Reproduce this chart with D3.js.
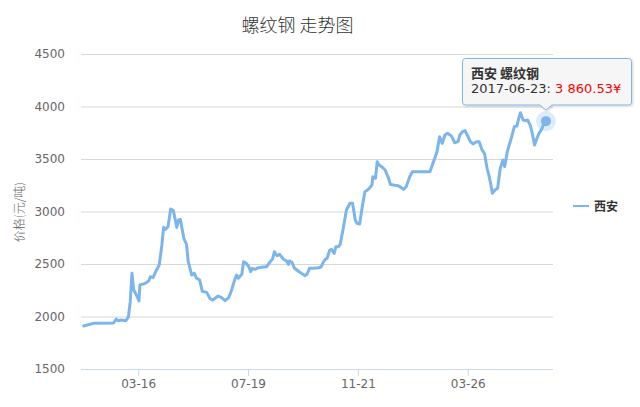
<!DOCTYPE html>
<html>
<head>
<meta charset="utf-8">
<script src="https://cdn.jsdelivr.net/npm/d3@7"></script>
<style>
  html, body { margin: 0; padding: 0; background: #fff; }
  svg { display: block; font-family: "DejaVu Sans", "Noto Sans CJK SC", sans-serif; }
</style>
</head>
<body>
<svg id="chart" width="640" height="407"></svg>
<script>
// ---- data ----
const chartTitle = "螺纹钢 走势图";
const seriesName = "西安";
const productName = "螺纹钢";
const yAxisTitle = "价格(元/吨)";
const yTicks = [1500, 2000, 2500, 3000, 3500, 4000, 4500];
const xTickDates = ["2016-03-16", "2016-07-19", "2016-11-21", "2017-03-26"];
const dates = [
  "2016-01-14","2016-01-25","2016-02-17","2016-02-20","2016-02-22","2016-02-26","2016-03-02","2016-03-05",
  "2016-03-07","2016-03-09","2016-03-11","2016-03-14","2016-03-17","2016-03-18","2016-03-24","2016-03-28",
  "2016-03-30","2016-04-02","2016-04-05","2016-04-09","2016-04-12","2016-04-14","2016-04-16","2016-04-19",
  "2016-04-22","2016-04-25","2016-04-29","2016-05-01","2016-05-03","2016-05-07","2016-05-10","2016-05-12",
  "2016-05-16","2016-05-19","2016-05-21","2016-05-25","2016-05-28","2016-05-30","2016-06-02","2016-06-06",
  "2016-06-09","2016-06-15","2016-06-19","2016-06-23","2016-06-27","2016-06-30","2016-07-04","2016-07-06",
  "2016-07-08","2016-07-12","2016-07-14","2016-07-17","2016-07-20","2016-07-22","2016-07-24","2016-07-27",
  "2016-07-31","2016-08-05","2016-08-09","2016-08-14","2016-08-16","2016-08-18","2016-08-21","2016-08-24",
  "2016-08-28","2016-09-01","2016-09-03","2016-09-04","2016-09-07","2016-09-10","2016-09-16","2016-09-22",
  "2016-09-24","2016-09-27","2016-10-01","2016-10-07","2016-10-10","2016-10-13","2016-10-15","2016-10-17",
  "2016-10-20","2016-10-22","2016-10-25","2016-10-27","2016-10-30","2016-11-01","2016-11-04","2016-11-08",
  "2016-11-12","2016-11-15","2016-11-18","2016-11-20","2016-11-23","2016-11-26","2016-11-29","2016-12-02",
  "2016-12-04","2016-12-07","2016-12-08","2016-12-11","2016-12-13","2016-12-15","2016-12-18","2016-12-22",
  "2016-12-26","2016-12-28","2016-12-31","2017-01-06","2017-01-12","2017-01-15","2017-01-19","2017-01-22",
  "2017-02-11","2017-02-15","2017-02-17","2017-02-19","2017-02-22","2017-02-25","2017-02-28","2017-03-03",
  "2017-03-06","2017-03-08","2017-03-11","2017-03-15","2017-03-17","2017-03-20","2017-03-23","2017-03-26",
  "2017-03-29","2017-04-01","2017-04-05","2017-04-08","2017-04-11","2017-04-14","2017-04-17","2017-04-19",
  "2017-04-21","2017-04-23","2017-04-26","2017-04-29","2017-05-02","2017-05-05","2017-05-07","2017-05-10",
  "2017-05-15","2017-05-18","2017-05-21","2017-05-23","2017-05-25","2017-05-28","2017-05-31","2017-06-02",
  "2017-06-05","2017-06-07","2017-06-10","2017-06-12","2017-06-15","2017-06-18","2017-06-20","2017-06-23"
];
const prices = [
  1910,1935,1938,1976,1960,1967,1960,1998,
  2141,2411,2252,2205,2148,2300,2316,2338,
  2379,2370,2427,2490,2681,2849,2830,2855,
  3024,3011,2849,2919,2925,2745,2688,2522,
  2395,2411,2370,2348,2240,2235,2230,2167,
  2157,2195,2179,2151,2179,2243,2353,2395,
  2364,2402,2522,2506,2474,2427,2459,2449,
  2465,2471,2474,2529,2548,2617,2579,2592,
  2548,2529,2497,2529,2516,2459,2421,2389,
  2402,2459,2459,2465,2471,2522,2544,2554,
  2633,2640,2601,2665,2665,2690,2824,3014,
  3078,3078,2919,2887,2881,3046,3189,3205,
  3221,3252,3331,3316,3474,3443,3427,3395,
  3316,3259,3252,3246,3211,3236,3331,3379,
  3379,3474,3520,3570,3712,3649,3729,3744,
  3729,3712,3655,3665,3729,3760,3770,3719,
  3665,3643,3665,3665,3592,3554,3411,3348,
  3268,3173,3205,3221,3411,3490,3427,3570,
  3712,3808,3814,3887,3941,3871,3865,3871,
  3824,3760,3633,3681,3744,3782,3824,3860.53
];
const xDomain = ["2016-01-11", "2017-07-01"];

// ---- chart ----
const parse = d3.timeParse("%Y-%m-%d");
const data = dates.map((d, i) => ({ date: parse(d), value: prices[i] }));

const plot = { left: 81, right: 553, top: 54, bottom: 369 };
const lineColor = "#7cb5ec";

const svg = d3.select("#chart");

const defs = svg.append("defs");
const f = defs.append("filter").attr("id", "shadow").attr("x", "-10%").attr("y", "-10%").attr("width", "130%").attr("height", "140%");
f.append("feDropShadow").attr("dx", 1).attr("dy", 1).attr("stdDeviation", 1.2).attr("flood-color", "#000").attr("flood-opacity", 0.18);

const x = d3.scaleTime().domain(xDomain.map(parse)).range([plot.left, plot.right]);
const y = d3.scaleLinear().domain([yTicks[0], yTicks[yTicks.length - 1]]).range([plot.bottom, plot.top]);

// title
svg.append("text")
  .attr("x", 297.5).attr("y", 32)
  .attr("text-anchor", "middle")
  .attr("font-size", 18).attr("fill", "#333").attr("font-weight", 300)
  .attr("font-family", "'Noto Sans CJK SC', sans-serif")
  .text(chartTitle);

// y axis with gridlines
const yAxis = svg.append("g")
  .attr("transform", `translate(${plot.left},0)`)
  .call(d3.axisLeft(y).tickValues(yTicks).tickFormat(d3.format("d"))
    .tickSize(-(plot.right - plot.left)).tickPadding(16));
yAxis.select(".domain").remove();
yAxis.selectAll(".tick line").attr("stroke", "#d8d8d8").attr("stroke-width", 1);
yAxis.selectAll(".tick text").attr("font-size", 12).attr("fill", "#666").attr("font-family", "'DejaVu Sans', sans-serif");

// x axis
const xAxis = svg.append("g")
  .attr("transform", `translate(0,${plot.bottom})`)
  .call(d3.axisBottom(x).tickValues(xTickDates.map(parse)).tickFormat(d3.timeFormat("%m-%d"))
    .tickSizeInner(7).tickSizeOuter(0).tickPadding(3));
xAxis.select(".domain").attr("stroke", "#ccd6eb").attr("d", `M${plot.left},0.5H${plot.right}`);
xAxis.selectAll(".tick line").attr("stroke", "#ccd6eb");
xAxis.selectAll(".tick text").attr("font-size", 12).attr("fill", "#666").attr("font-family", "'DejaVu Sans', sans-serif");

// y axis title
svg.append("text")
  .attr("transform", `translate(20,212) rotate(-90)`)
  .attr("text-anchor", "middle").attr("dy", "0.35em")
  .attr("font-size", 12).attr("fill", "#666").attr("font-weight", 300)
  .attr("font-family", "'Noto Sans CJK SC', sans-serif")
  .text(yAxisTitle);

// line
const line = d3.line().x(d => x(d.date)).y(d => y(d.value)).curve(d3.curveLinear);
svg.append("path")
  .datum(data)
  .attr("fill", "none")
  .attr("stroke", lineColor)
  .attr("stroke-width", 3)
  .attr("stroke-linejoin", "round")
  .attr("stroke-linecap", "round")
  .attr("d", line);

// hover marker on last point
const last = data[data.length - 1];
const px = x(last.date), py = y(last.value);
svg.append("circle").attr("cx", px).attr("cy", py).attr("r", 10).attr("fill", lineColor).attr("opacity", 0.25);
svg.append("circle").attr("cx", px).attr("cy", py).attr("r", 5).attr("fill", lineColor);

// legend
const lg = svg.append("g");
lg.append("line").attr("x1", 573).attr("x2", 589).attr("y1", 206).attr("y2", 206)
  .attr("stroke", lineColor).attr("stroke-width", 2);
lg.append("text").attr("x", 594).attr("y", 210.5)
  .attr("font-size", 12).attr("font-weight", "bold").attr("fill", "#333")
  .attr("font-family", "'Noto Sans CJK SC', sans-serif")
  .text(seriesName);

// tooltip
const bx = 462.5, by = 58.5, bw = 169, bh = 46.5, r = 3;
const tipX = px, tipY = py - 11;
const path = `M${bx + r},${by} H${bx + bw - r} Q${bx + bw},${by} ${bx + bw},${by + r} V${by + bh - r}` +
  ` Q${bx + bw},${by + bh} ${bx + bw - r},${by + bh} H${tipX + 6} L${tipX},${tipY} L${tipX - 6},${by + bh}` +
  ` H${bx + r} Q${bx},${by + bh} ${bx},${by + bh - r} V${by + r} Q${bx},${by} ${bx + r},${by} Z`;
svg.append("path").attr("d", path)
  .attr("fill", "rgba(247,247,247,0.92)")
  .attr("stroke", lineColor).attr("stroke-width", 1)
  .attr("filter", "url(#shadow)");

const fmt = v => d3.format(",.2f")(v).replace(/,/g, " ");
svg.append("text").attr("x", 471).attr("y", 78)
  .attr("font-size", 13).attr("font-weight", "bold").attr("fill", "#333")
  .attr("font-family", "'Noto Sans CJK SC', sans-serif")
  .text(seriesName + "  " + productName);
const t2 = svg.append("text").attr("x", 471).attr("y", 92.5)
  .attr("font-size", 13).attr("font-family", "'DejaVu Sans', sans-serif");
t2.append("tspan").attr("fill", "#333").text(d3.timeFormat("%Y-%m-%d")(last.date) + ": ");
t2.append("tspan").attr("fill", "#ff0000").text(fmt(last.value) + "¥");
</script>
</body>
</html>
